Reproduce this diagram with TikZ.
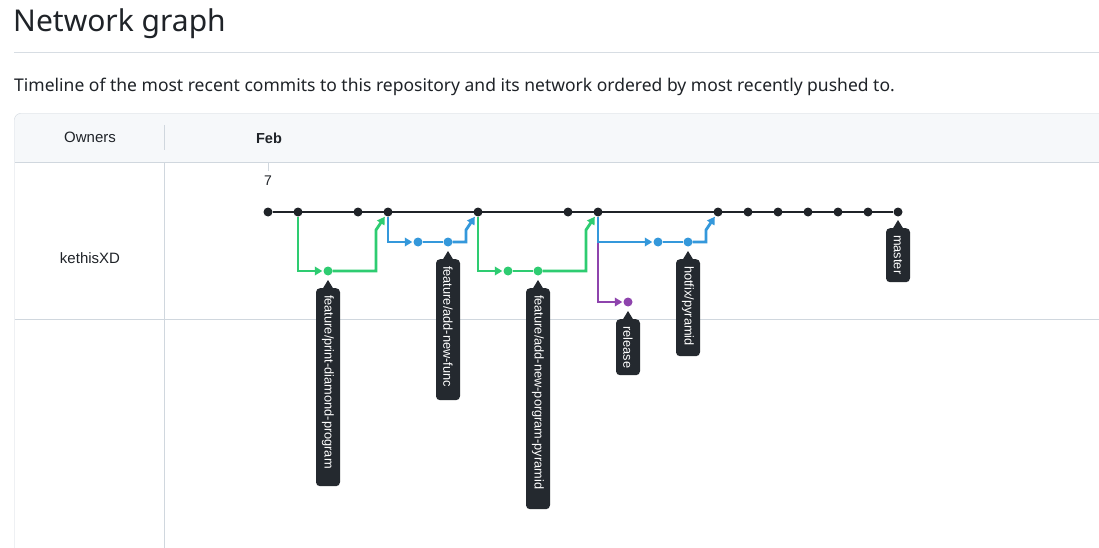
\documentclass[tikz,border=0pt]{standalone}
\usepackage{fontspec}
\setmainfont{Noto Sans}
\newfontfamily\arial{Liberation Sans}
\usetikzlibrary{arrows.meta}

\definecolor{ink}{HTML}{1F2328}
\definecolor{rule}{HTML}{D0D7DE}
\definecolor{headbg}{HTML}{F6F8FA}
\definecolor{tagbg}{HTML}{24292F}
\definecolor{masterc}{HTML}{1F2328}
\definecolor{gitgreen}{HTML}{2ECC71}
\definecolor{gitblue}{HTML}{3498DB}
\definecolor{gitpurple}{HTML}{8E44AD}

\newcommand{\cs}{30}
\newcommand{\ox}{268}
\newcommand{\pointer}[1]{\fill[tagbg] (#1.west) ++(-5.5,1) -- ++(5.5,-9) -- ++(5.5,9) -- cycle;}

\begin{document}
\begin{tikzpicture}[x=1pt,y=-1pt,
    commit/.style={circle, fill=#1, inner sep=0pt, minimum size=9pt},
    commit/.default=masterc,
    branch/.style={draw=#1, line width=2.8pt},
    merge/.style={branch=#1, -{Triangle[length=7.5pt,width=8.5pt]}, shorten >=1pt},
    tag/.style={fill=tagbg, text=white, rounded corners=4pt, rotate=-90, anchor=west,
        inner xsep=7pt, inner ysep=0pt, minimum height=24pt, align=left,
        font=\arial\fontsize{12.8}{14}\selectfont},
    cell/.style={text=ink, font=\arial\fontsize{15}{18}\selectfont}]
    \useasboundingbox (0,0) rectangle (1099,548);
    \fill[white] (0,0) rectangle (1099,548);

    % Heading
    \node[anchor=base west, inner sep=0pt, text=ink, font=\fontsize{30}{36}\selectfont] (title) at (13,32) {Network graph};
    \draw[rule!85] (14,52.5) -- (1099,52.5);
    \node[anchor=base west, inner sep=0pt, text=ink, font=\fontsize{17.5}{20}\selectfont] (intro) at (14,92)
        {Timeline of the most recent commits to this repository and its network ordered by most recently pushed to.};

    % Table
    \fill[headbg] (14.5,162) [rounded corners=6pt] -- (14.5,113.5) -- (1110,113.5) [sharp corners] -- (1110,162) -- cycle;
    \draw[rule] (14.5,560) [rounded corners=6pt] -- (14.5,113.5) -- (1110,113.5);
    \draw[rule] (14.5,162.5) -- (1099,162.5);
    \draw[rule] (14.5,319.5) -- (1099,319.5);
    \draw[rule] (164.5,125) -- (164.5,150);
    \draw[rule] (164.5,162.5) -- (164.5,548);
    \node[cell] (owners) at (90,137) {Owners};
    \node[cell, font=\arial\bfseries\fontsize{14.5}{17}\selectfont] (month) at (269,138) {Feb};
    \draw[rule] (\ox,163) -- (\ox,171);
    \node[cell, font=\arial\fontsize{14}{16}\selectfont] (day) at (\ox,181) {7};
    \node[cell] (owner) at (90,258) {kethisXD};

    % Master commits
    \node[commit] (c0) at (\ox+0*\cs,212) {};
    \node[commit] (c1) at (\ox+1*\cs,212) {};
    \node[commit] (c3) at (\ox+3*\cs,212) {};
    \node[commit] (c4) at (\ox+4*\cs,212) {};
    \node[commit] (c7) at (\ox+7*\cs,212) {};
    \node[commit] (c10) at (\ox+10*\cs,212) {};
    \node[commit] (c11) at (\ox+11*\cs,212) {};
    \node[commit] (c15) at (\ox+15*\cs,212) {};
    \node[commit] (c16) at (\ox+16*\cs,212) {};
    \node[commit] (c17) at (\ox+17*\cs,212) {};
    \node[commit] (c18) at (\ox+18*\cs,212) {};
    \node[commit] (c19) at (\ox+19*\cs,212) {};
    \node[commit] (c20) at (\ox+20*\cs,212) {};
    \node[commit] (c21) at (\ox+21*\cs,212) {};

    % Branch commits
    \node[commit=gitgreen] (g2) at (\ox+2*\cs,271) {};
    \node[commit=gitblue] (b5) at (\ox+5*\cs,242) {};
    \node[commit=gitblue] (b6) at (\ox+6*\cs,242) {};
    \node[commit=gitgreen] (g8) at (\ox+8*\cs,271) {};
    \node[commit=gitgreen] (g9) at (\ox+9*\cs,271) {};
    \node[commit=gitpurple] (p12) at (\ox+12*\cs,302) {};
    \node[commit=gitblue] (b13) at (\ox+13*\cs,242) {};
    \node[commit=gitblue] (b14) at (\ox+14*\cs,242) {};

    % Branch lines
    \draw[merge=gitgreen] (c1) |- (g2);
    \draw[merge=gitgreen] (g2) -- ++(48,0) -- ++(0,-41) -- (c4);
    \draw[merge=gitblue] (c4) |- (b5);
    \draw[branch=gitblue] (b5) -- (b6);
    \draw[merge=gitblue] (b6) -- ++(18,0) -- ++(0,-12) -- (c7);
    \draw[merge=gitgreen] (c7) |- (g8);
    \draw[branch=gitgreen] (g8) -- (g9);
    \draw[merge=gitgreen] (g9) -- ++(48,0) -- ++(0,-41) -- (c11);
    \draw[merge=gitpurple] (c11) |- (p12);
    \draw[merge=gitblue] (c11) |- (b13);
    \draw[branch=gitblue] (b13) -- (b14);
    \draw[merge=gitblue] (b14) -- ++(18,0) -- ++(0,-12) -- (c15);
    \draw[branch=masterc] (c0) -- (c21);

    % Branch tags
    \node[tag, text width=184pt] (t-diamond) at (g2 |- 0,288) {feature/print-diamond-program};
    \node[tag, text width=127pt] (t-func) at (b6 |- 0,259) {feature/add-new-func};
    \node[tag, text width=207pt] (t-pyramid) at (g9 |- 0,288) {feature/add-new-porgram-pyramid};
    \node[tag, text width=42pt] (t-release) at (p12 |- 0,319) {release};
    \node[tag, text width=83pt] (t-hotfix) at (b14 |- 0,259) {hotfix/pyramid};
    \node[tag, text width=40pt] (t-master) at (c21 |- 0,228) {master};
    \pointer{t-diamond}
    \pointer{t-func}
    \pointer{t-pyramid}
    \pointer{t-release}
    \pointer{t-hotfix}
    \pointer{t-master}

\end{tikzpicture}
\end{document}
